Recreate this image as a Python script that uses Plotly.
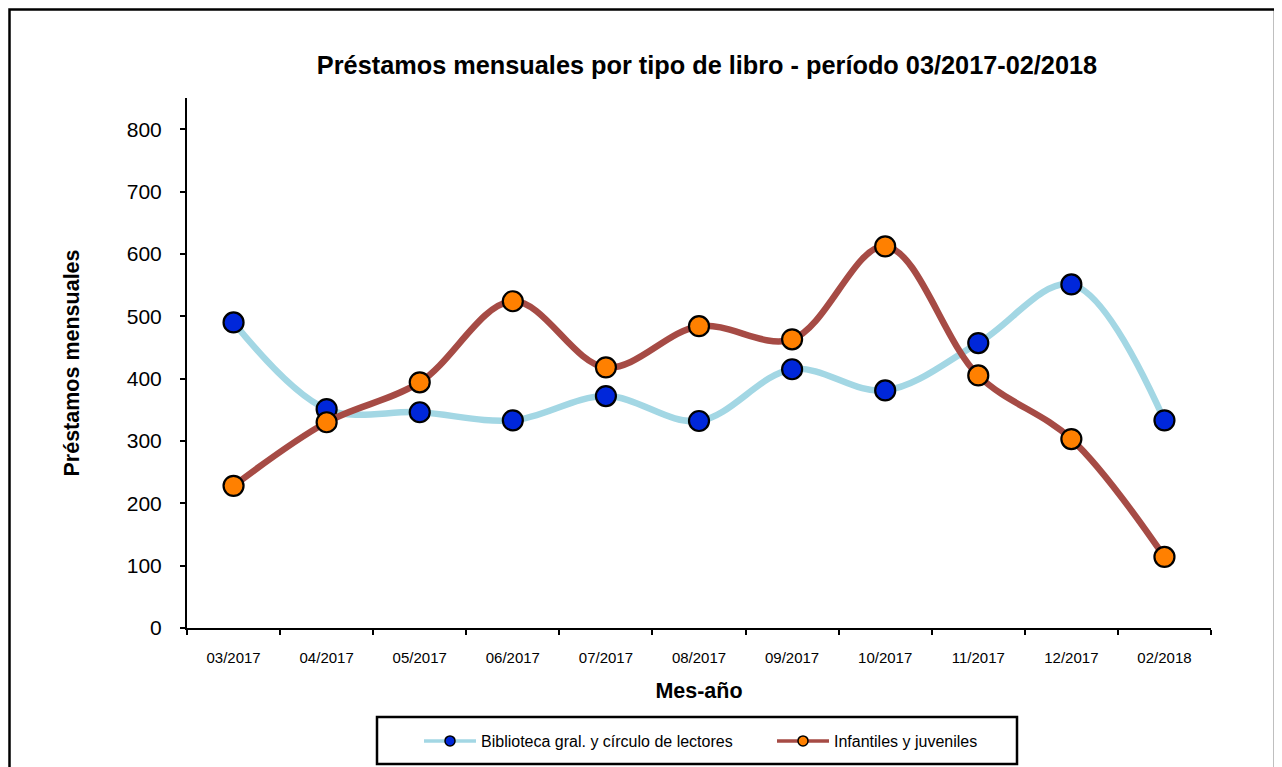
import plotly.graph_objects as go

meses = ["03/2017", "04/2017", "05/2017", "06/2017", "07/2017", "08/2017",
         "09/2017", "10/2017", "11/2017", "12/2017", "02/2018"]
biblioteca = [490, 351, 346, 333, 372, 332, 415, 381, 457, 551, 333]
infantiles = [228, 330, 394, 524, 418, 484, 463, 612, 405, 303, 114]
nombres = ["Biblioteca gral. y círculo de lectores", "Infantiles y juveniles"]
lineas = ["#A3D7E4", "#A64B45"]
marcadores = ["#0027DA", "#FF8000"]

FONT = "Liberation Sans, Arial, sans-serif"
W, H = 1282, 767
# plot area in figure pixels
L, R, T, B = 179, 1203, 90, 620
PW, PH = R - L, B - T


def px(x):
    return (x - L) / PW


def py(y):
    return (B - y) / PH


fig = go.Figure()
for serie, nombre, lc, mc in zip([biblioteca, infantiles], nombres, lineas, marcadores):
    fig.add_trace(go.Scatter(
        x=meses, y=serie, name=nombre, showlegend=False,
        mode="lines+markers", line=dict(color=lc, width=6.5, shape="spline", smoothing=1),
        marker=dict(color=mc, size=20, line=dict(color="black", width=2.2)),
    ))
# legend entries (small symbols, as in the reference legend)
for nombre, lc, mc in zip(nombres, lineas, marcadores):
    fig.add_trace(go.Scatter(
        x=[None], y=[None], name=nombre, showlegend=True,
        mode="lines+markers", line=dict(color=lc, width=3.5),
        marker=dict(color=mc, size=10, line=dict(color="black", width=1.5)),
    ))

fig.update_layout(
    width=W, height=H,
    margin=dict(l=L, r=W - R, t=T, b=H - B, autoexpand=False),
    paper_bgcolor="white", plot_bgcolor="white",
    font=dict(family=FONT, color="black"),
    title=dict(text="<b>Préstamos mensuales por tipo de libro - período 03/2017-02/2018</b>",
               x=699 / W, xanchor="center", xref="container",
               y=1 - 57 / H, yanchor="middle", yref="container",
               font=dict(size=25.3, family=FONT)),
    showlegend=True,
    legend=dict(orientation="h", x=px(411), xanchor="left",
                y=py(733), yanchor="middle",
                borderwidth=0, bgcolor="rgba(0,0,0,0)", font=dict(size=16, family=FONT),
                entrywidth=286, itemwidth=52),
)
fig.update_xaxes(
    range=[-0.5, 10.5],
    showline=True, linecolor="black", linewidth=2, ticks="outside", ticklen=5,
    tickcolor="black", tickwidth=2, tickson="boundaries", showgrid=False,
    tickfont=dict(size=15), ticklabelstandoff=15,
    title=dict(text="<b>Mes-año</b>", font=dict(size=21.5), standoff=18),
)
fig.update_yaxes(
    range=[0, 850], tickvals=[0, 100, 200, 300, 400, 500, 600, 700, 800],
    showline=True, linecolor="black", linewidth=2, ticks="outside", ticklen=5,
    tickcolor="black", tickwidth=2, showgrid=False, zeroline=False,
    tickfont=dict(size=21), ticklabelstandoff=14,
    title=dict(text="<b>Préstamos mensuales</b>", font=dict(size=21.5), standoff=41),
)
# outer chart frame
fig.add_shape(type="rect", xref="paper", yref="paper",
              x0=px(1.5), x1=px(1267),
              y0=py(H + 20), y1=py(1.5),
              line=dict(color="black", width=2.5), fillcolor="rgba(0,0,0,0)", layer="below")
# legend frame
fig.add_shape(type="rect", xref="paper", yref="paper",
              x0=px(369), x1=px(1009),
              y0=py(756), y1=py(709),
              line=dict(color="black", width=2.5), fillcolor="rgba(0,0,0,0)", layer="below")

fig.write_html("out.html")
